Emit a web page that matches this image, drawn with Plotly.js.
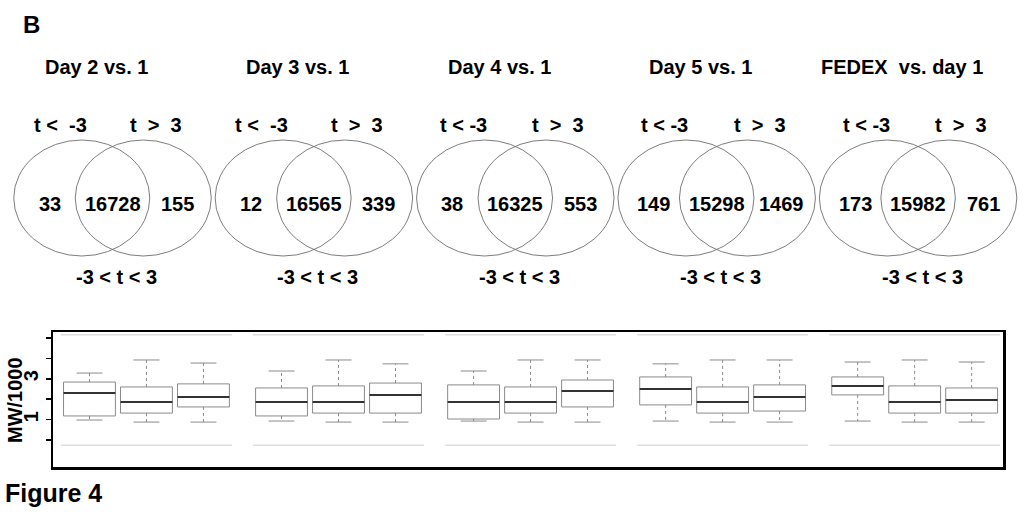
<!DOCTYPE html>
<html>
<head>
<meta charset="utf-8">
<script src="https://cdn.plot.ly/plotly-3.0.1.min.js"></script>
<style>html,body{margin:0;padding:0;background:#fff;}#chart{width:1024px;height:512px;}</style>
</head>
<body>
<div id="chart"></div>
<script>
// ---- Venn data ----
const panelTitles = ['Day 2 vs. 1', 'Day 3 vs. 1', 'Day 4 vs. 1', 'Day 5 vs. 1', 'FEDEX\u00a0\u00a0vs. day 1'];
const downLabels = ['t <\u00a0\u00a0-3', 't <\u00a0\u00a0-3', 't < -3', 't < -3', 't < -3'];
const upLabels = ['t\u00a0\u00a0>\u00a0\u00a03', 't\u00a0\u00a0>\u00a0\u00a03', 't\u00a0\u00a0>\u00a0\u00a03', 't\u00a0\u00a0>\u00a0\u00a03', 't\u00a0\u00a0>\u00a0\u00a03'];
const midLabels = ['-3 < t < 3', '-3 < t < 3', '-3 < t < 3', '-3 < t < 3', '-3 < t < 3'];
const downCounts = [33, 12, 38, 149, 173];
const sharedCounts = [16728, 16565, 16325, 15298, 15982];
const upCounts = [155, 339, 553, 1469, 761];

// ---- Box plot data (MW/1000) ----
const boxGroups = ['Day 2', 'Day 3', 'Day 4', 'Day 5', 'FEDEX'];
const boxQ1     = [1.18, 1.32, 1.62,  1.18, 1.32, 1.32,  1.03, 1.32, 1.62,  1.72, 1.32, 1.42,  2.21, 1.32, 1.32];
const boxMedian = [2.30, 1.86, 2.11,  1.86, 1.86, 2.21,  1.86, 1.86, 2.40,  2.50, 1.86, 2.11,  2.65, 1.86, 1.96];
const boxQ3     = [2.84, 2.60, 2.75,  2.55, 2.65, 2.79,  2.70, 2.60, 2.94,  3.09, 2.60, 2.70,  3.09, 2.65, 2.55];
const boxLow    = [0.98, 0.88, 0.88,  0.93, 0.88, 0.88,  0.93, 0.88, 0.88,  0.93, 0.88, 0.88,  0.93, 0.88, 0.88];
const boxHigh   = [3.28, 3.92, 3.77,  3.38, 3.92, 3.73,  3.38, 3.92, 3.92,  3.73, 3.92, 3.92,  3.82, 3.92, 3.82];
const refLow = -0.25, refHigh = 5.15;
const yTickVals = [0, 1, 2, 3, 4, 5];
const yTickText = ['', '1', '', '3', '', ''];

// ---- layout constants ----
const FONT = 'Liberation Sans, Arial, Helvetica, sans-serif';
const perGroup = 3, groupStride = 3.37, boxW = 0.91;
const panelStart = 112.5, panelStep = 201.4;
const rx = 68, ry = 58, off = 30.75, cy = 198;

const xPos = boxQ1.map((_, k) => Math.floor(k / perGroup) * groupStride + (k % perGroup));

const traces = [];
// reference gray lines per group
boxGroups.forEach((g, gi) => {
  const a = gi * groupStride - 0.5, b = gi * groupStride + 2.5;
  [refLow, refHigh].forEach(v => traces.push({
    type: 'scatter', mode: 'lines', x: [a, b], y: [v, v],
    line: {color: '#dedede', width: 1.5}, hoverinfo: 'skip', showlegend: false
  }));
});
// whiskers (dotted)
const wx = [], wy = [], cx = [], cyy = [], mx = [], my = [];
xPos.forEach((x, k) => {
  wx.push(x, x, null, x, x, null);
  wy.push(boxQ3[k], boxHigh[k], null, boxQ1[k], boxLow[k], null);
  cx.push(x - boxW / 4, x + boxW / 4, null, x - boxW / 4, x + boxW / 4, null);
  cyy.push(boxHigh[k], boxHigh[k], null, boxLow[k], boxLow[k], null);
  mx.push(x - boxW / 2, x + boxW / 2, null);
  my.push(boxMedian[k], boxMedian[k], null);
});
traces.push({type: 'scatter', mode: 'lines', x: wx, y: wy, line: {color: '#8a8a8a', width: 1, dash: 'dot'}, hoverinfo: 'skip', showlegend: false});
traces.push({type: 'scatter', mode: 'lines', x: cx, y: cyy, line: {color: '#8a8a8a', width: 1}, hoverinfo: 'skip', showlegend: false});
traces.push({
  type: 'box', x: xPos, q1: boxQ1, median: boxMedian, q3: boxQ3,
  lowerfence: boxQ1, upperfence: boxQ3, width: boxW, whiskerwidth: 0,
  fillcolor: 'rgba(255,255,255,0)', line: {color: '#8a8a8a', width: 1}, showlegend: false
});
traces.push({type: 'scatter', mode: 'lines', x: mx, y: my, line: {color: '#333333', width: 2}, hoverinfo: 'skip', showlegend: false});

// Venn shapes & annotations
const shapes = [];
const annotations = [];
const ann = (x, y, text, size, extra) => Object.assign({
  xref: 'x2', yref: 'y2', x, y, text, showarrow: false,
  font: {family: FONT, size, color: '#000', weight: 'bold'}
}, extra || {});

panelTitles.forEach((t, i) => {
  const M = panelStart + i * panelStep;
  [-off, off].forEach(d => shapes.push({
    type: 'circle', xref: 'x2', yref: 'y2',
    x0: M + d - rx, x1: M + d + rx, y0: cy - ry, y1: cy + ry,
    line: {color: '#6e6e6e', width: 0.9}
  }));
  annotations.push(ann(M - 16, 67, t, 20));
  annotations.push(ann(M - 52, 125, downLabels[i], 20));
  annotations.push(ann(M + 43, 125, upLabels[i], 20));
  annotations.push(ann(M - 63, 204, String(downCounts[i]), 20));
  annotations.push(ann(M, 204, String(sharedCounts[i]), 20));
  annotations.push(ann(M + 65, 204, String(upCounts[i]), 20));
  annotations.push(ann(M + 4, 277, midLabels[i], 20));
});
annotations.push(ann(21, 24, 'B', 24, {xanchor: 'left'}));
annotations.push(ann(3, 493, 'Figure 4', 25, {xanchor: 'left'}));
annotations.push(ann(15, 400, 'MW/1000', 20, {textangle: -90}));

const layout = {
  width: 1024, height: 512,
  margin: {l: 0, r: 0, t: 0, b: 0, autoexpand: false},
  paper_bgcolor: '#fff', plot_bgcolor: 'rgba(0,0,0,0)',
  showlegend: false,
  xaxis: {
    domain: [53 / 1024, 1003 / 1024], range: [-0.64, 16.03], automargin: false,
    showgrid: false, zeroline: false, showticklabels: false, ticks: '',
    showline: true, mirror: true, linecolor: '#000', linewidth: 2.5
  },
  yaxis: {
    domain: [1 - 467 / 512, 1 - 332 / 512], range: [-1.32, 5.29], automargin: false,
    showgrid: false, zeroline: false,
    tickvals: yTickVals, ticktext: yTickText, tickangle: -90,
    ticks: 'outside', ticklen: 5, tickwidth: 1.5, tickcolor: '#000',
    tickfont: {family: FONT, size: 20, color: '#000', weight: 'bold'},
    showline: true, mirror: true, linecolor: '#000', linewidth: 2.5
  },
  xaxis2: {domain: [0, 1], range: [0, 1024], visible: false, fixedrange: true, anchor: 'y2', automargin: false},
  yaxis2: {domain: [0, 1], range: [512, 0], visible: false, fixedrange: true, anchor: 'x2', automargin: false},
  shapes, annotations
};

Plotly.newPlot('chart', traces, layout, {displayModeBar: false, staticPlot: true});
</script>
</body>
</html>
